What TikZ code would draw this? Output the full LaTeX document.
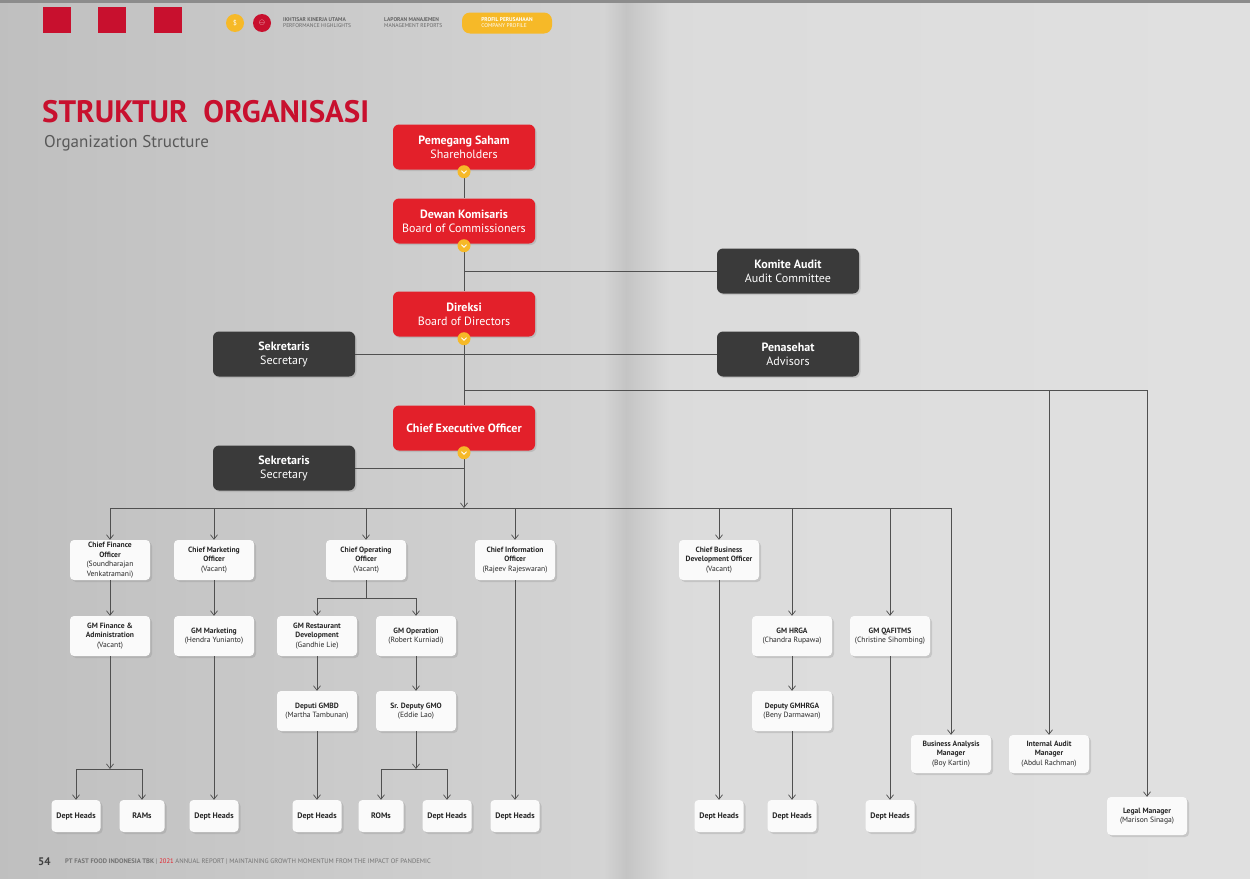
\documentclass[tikz,border=0pt]{standalone}
\usepackage{fontspec}
\setmainfont{PT Sans}
\usetikzlibrary{arrows.meta,shadows}

\definecolor{kfcred}{HTML}{E3202A}
\definecolor{titlered}{HTML}{C8102E}
\definecolor{darkbox}{HTML}{3A3A3A}
\definecolor{kfcyellow}{HTML}{F6B928}
\definecolor{linegray}{HTML}{505050}

\begin{document}
\begin{tikzpicture}[x=1pt,y=-1pt,
	redbox/.style={rounded corners=6pt, fill=kfcred, text=white, minimum width=142pt, minimum height=45pt, align=center, font=\fontsize{12}{14}\selectfont, drop shadow={shadow xshift=1.5pt, shadow yshift=-1.5pt, opacity=0.25}},
	greybox/.style={redbox, fill=darkbox},
	whitebox/.style={rounded corners=4pt, fill=white!96!gray, text=black!85, minimum width=80pt, minimum height=40pt, inner sep=1pt, align=center, font=\fontsize{7.6}{9.5}\selectfont, drop shadow={shadow xshift=2pt, shadow yshift=-2pt, opacity=0.25}},
	headbox/.style={whitebox, minimum width=49pt, minimum height=32pt, font=\fontsize{8}{9}\selectfont\bfseries},
	chev/.style={circle, fill=kfcyellow, inner sep=0pt, minimum size=13pt, path picture={\draw[white, line width=0.9pt] ([xshift=-2.5pt,yshift=1pt]path picture bounding box.center) -- ([yshift=-1.5pt]path picture bounding box.center) -- ([xshift=2.5pt,yshift=1pt]path picture bounding box.center);}},
	conn/.style={draw=linegray, line width=0.7pt},
	arr/.style={conn, -{Straight Barb[length=4.5pt,width=7pt]}}
]
	\useasboundingbox (0,0) rectangle (1250,878);

	% pages
	\shade[left color=black!25, right color=black!17] (0,0) rectangle (604,878);
	\shade[left color=black!17, right color=black!23] (604,0) rectangle (626,878);
	\shade[left color=black!23, right color=black!14] (626,0) rectangle (670,878);
	\shade[left color=black!14, right color=black!12] (670,0) rectangle (1250,878);
	\fill[black!45] (0,0) rectangle (1250,3);

	% header
	\foreach \x in {43,98,154}
		\fill[titlered] (\x,7) rectangle ++(28,26);
	\node[circle, fill=kfcyellow, minimum size=18pt, inner sep=0pt, text=white, font=\fontsize{7}{7}\selectfont] (hicon1) at (235,23) {\$};
	\node[circle, fill=titlered, minimum size=18pt, inner sep=0pt, text=white, font=\fontsize{7}{7}\selectfont] (hicon2) at (262,23) {$\ominus$};
	\node[anchor=west, align=left, inner sep=0pt, text=black!60, font=\fontsize{5.5}{6}\selectfont\bfseries] (htab1) at (283,23) {IKHTISAR KINERJA UTAMA\\\mdseries PERFORMANCE HIGHLIGHTS};
	\node[anchor=west, align=left, inner sep=0pt, text=black!60, font=\fontsize{5.5}{6}\selectfont\bfseries] (htab2) at (384,23) {LAPORAN MANAJEMEN\\\mdseries MANAGEMENT REPORTS};
	\node[rounded corners=8pt, fill=kfcyellow, text=white, minimum width=90pt, minimum height=21pt, align=left, font=\fontsize{5.5}{6}\selectfont\bfseries] (htab3) at (507,23) {PROFIL PERUSAHAAN\\\mdseries COMPANY PROFILE};

	% title
	\node[anchor=south west, inner sep=0pt, text=titlered, font=\fontsize{31}{31}\selectfont\bfseries] (title) at (42,123) {STRUKTUR\ \ ORGANISASI};
	\node[anchor=north west, inner sep=0pt, text=black!65, font=\fontsize{17}{17}\selectfont] (subtitle) at (44,135) {Organization Structure};

	% board
	\node[redbox] (ps) at (464,147) {\textbf{Pemegang Saham}\\Shareholders};
	\node[redbox] (dk) at (464,221) {\textbf{Dewan Komisaris}\\Board of Commissioners};
	\node[redbox] (dir) at (464,314) {\textbf{Direksi}\\Board of Directors};
	\node[redbox] (ceo) at (464,428) {\textbf{Chief Executive Officer}};
	\node[greybox] (ka) at (788,271) {\textbf{Komite Audit}\\Audit Committee};
	\node[greybox] (sek1) at (284,354) {\textbf{Sekretaris}\\Secretary};
	\node[greybox] (pen) at (788,354) {\textbf{Penasehat}\\Advisors};
	\node[greybox] (sek2) at (284,468) {\textbf{Sekretaris}\\Secretary};

	% chiefs
	\node[whitebox] (cfo) at (110,560) {\textbf{Chief Finance}\\\textbf{Officer}\\(Soundharajan\\Venkatramani)};
	\node[whitebox] (cmo) at (214,560) {\textbf{Chief Marketing}\\\textbf{Officer}\\(Vacant)};
	\node[whitebox] (coo) at (366,560) {\textbf{Chief Operating}\\\textbf{Officer}\\(Vacant)};
	\node[whitebox] (cio) at (515,560) {\textbf{Chief Information}\\\textbf{Officer}\\(Rajeev Rajeswaran)};
	\node[whitebox] (cbdo) at (719,560) {\textbf{Chief Business}\\\textbf{Development Officer}\\(Vacant)};

	% general managers
	\node[whitebox] (gmfa) at (110,636) {\textbf{GM Finance \&}\\\textbf{Administration}\\(Vacant)};
	\node[whitebox] (gmm) at (214,636) {\textbf{GM Marketing}\\(Hendra Yunianto)};
	\node[whitebox] (gmrd) at (317,636) {\textbf{GM Restaurant}\\\textbf{Development}\\(Gandhie Lie)};
	\node[whitebox] (gmo) at (416,636) {\textbf{GM Operation}\\(Robert Kurniadi)};
	\node[whitebox] (gmhrga) at (792,636) {\textbf{GM HRGA}\\(Chandra Rupawa)};
	\node[whitebox] (gmqa) at (890,636) {\textbf{GM QAFITMS}\\(Christine Sihombing)};

	% deputies
	\node[whitebox] (dgmbd) at (317,711) {\textbf{Deputi GMBD}\\(Martha Tambunan)};
	\node[whitebox] (sdgmo) at (416,711) {\textbf{Sr. Deputy GMO}\\(Eddie Lao)};
	\node[whitebox] (dgmhrga) at (792,711) {\textbf{Deputy GMHRGA}\\(Beny Darmawan)};

	% managers
	\node[whitebox, minimum height=38pt] (bam) at (951,754) {\textbf{Business Analysis}\\\textbf{Manager}\\(Boy Kartin)};
	\node[whitebox, minimum height=38pt] (iam) at (1049,754) {\textbf{Internal Audit}\\\textbf{Manager}\\(Abdul Rachman)};
	\node[whitebox, minimum height=38pt] (legal) at (1147,816) {\textbf{Legal Manager}\\(Marison Sinaga)};

	% dept heads
	\node[headbox] (dh1) at (76,816) {Dept Heads};
	\node[headbox, minimum width=45pt] (rams) at (142,816) {RAMs};
	\node[headbox] (dh2) at (214,816) {Dept Heads};
	\node[headbox] (dh3) at (317,816) {Dept Heads};
	\node[headbox, minimum width=45pt] (roms) at (381,816) {ROMs};
	\node[headbox] (dh4) at (447,816) {Dept Heads};
	\node[headbox] (dh5) at (515,816) {Dept Heads};
	\node[headbox] (dh6) at (719,816) {Dept Heads};
	\node[headbox] (dh7) at (792,816) {Dept Heads};
	\node[headbox] (dh8) at (890,816) {Dept Heads};

	% junctions
	\coordinate (adv) at (464,390);
	\coordinate (bar) at (464,508);
	\coordinate (cob) at (366,598);
	\coordinate (fab) at (110,769);
	\coordinate (sob) at (416,769);

	% board lines
	\draw[conn] (ps.south) -- (dk.north);
	\draw[conn] (dk.south) -- (dir.north);
	\draw[conn] (ka.west) -- (ka.west -| dk.south);
	\draw[conn] (sek1.east) -- (pen.west);
	\draw[conn] (dir.south) -- (ceo.north);
	\draw[conn] (sek2.east) -- (sek2.east -| ceo.south);
	\draw[arr] (adv) -| (legal.north);
	\draw[arr] (adv -| iam.north) -- (iam.north);
	\draw[arr] (ceo.south) -- (bar);

	% bar to chiefs
	\draw[conn] (bar -| cfo.north) -- (bar -| bam.north);
	\foreach \n in {cfo,cmo,coo,cio,cbdo,gmhrga,gmqa,bam}
		\draw[arr] (bar -| \n.north) -- (\n.north);

	% finance and marketing
	\draw[arr] (cfo.south) -- (gmfa.north);
	\draw[arr] (gmfa.south) -- (fab);
	\draw[arr] (fab) -| (dh1.north);
	\draw[arr] (fab) -| (rams.north);
	\draw[arr] (cmo.south) -- (gmm.north);
	\draw[arr] (gmm.south) -- (dh2.north);

	% operations
	\draw[conn] (coo.south) -- (cob);
	\draw[arr] (cob) -| (gmrd.north);
	\draw[arr] (cob) -| (gmo.north);
	\draw[arr] (gmrd.south) -- (dgmbd.north);
	\draw[arr] (dgmbd.south) -- (dh3.north);
	\draw[arr] (gmo.south) -- (sdgmo.north);
	\draw[arr] (sdgmo.south) -- (sob);
	\draw[arr] (sob) -| (roms.north);
	\draw[arr] (sob) -| (dh4.north);

	% others
	\draw[arr] (cio.south) -- (dh5.north);
	\draw[arr] (cbdo.south) -- (dh6.north);
	\draw[arr] (gmhrga.south) -- (dgmhrga.north);
	\draw[arr] (dgmhrga.south) -- (dh7.north);
	\draw[arr] (gmqa.south) -- (dh8.north);

	% chevrons
	\foreach \n in {ps,dk,dir,ceo}
		\node[chev] (\n-dot) at ([yshift=-2pt]\n.south) {};

	% footer
	\node[anchor=west, inner sep=0pt, text=black!75, font=\fontsize{11}{11}\selectfont\bfseries] (pageno) at (38,862) {54};
	\node[anchor=west, inner sep=0pt, text=black!55, font=\fontsize{6.6}{6.6}\selectfont] (foot) at (65,862) {\textbf{PT FAST FOOD INDONESIA TBK} | \textcolor{kfcred}{2021} ANNUAL REPORT | MAINTAINING GROWTH MOMENTUM FROM THE IMPACT OF PANDEMIC};

\end{tikzpicture}
\end{document}
